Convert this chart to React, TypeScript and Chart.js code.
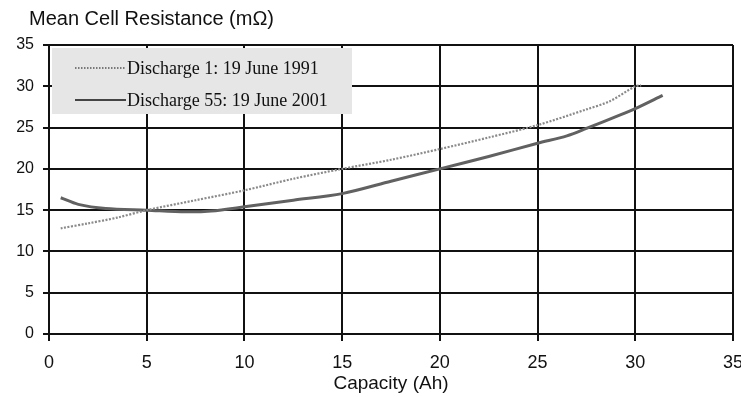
import { useEffect, useRef } from "react";
import { Chart, registerables } from "chart.js";

Chart.register(...registerables);

const yAxisTitle = "Mean Cell Resistance (mΩ)";
const xAxisTitle = "Capacity (Ah)";
const seriesLabels = ["Discharge 1: 19 June 1991", "Discharge 55: 19 June 2001"];

const capacity1991 = [0.6, 2, 3.5, 5, 7.5, 10, 12.5, 15, 17.5, 20, 22.5, 25, 27.5, 28.7, 30, 30.3];
const resistance1991 = [12.8, 13.4, 14.1, 15, 16.2, 17.4, 18.8, 20, 21.1, 22.4, 23.8, 25.3, 27.2, 28.2, 30, 30.1];

const capacity2001 = [0.6, 1.5, 2.9, 5, 7, 8.3, 10, 12.5, 15, 17.5, 20, 22.5, 25, 26.5, 27.5, 29.2, 30, 31.4];
const resistance2001 = [16.5, 15.7, 15.2, 15, 14.8, 14.9, 15.4, 16.2, 17.0, 18.5, 20, 21.5, 23.1, 24, 24.9, 26.5, 27.3, 28.9];

const axisMin = 0;
const axisMax = 35;
const axisStep = 5;

const SANS = "'Liberation Sans', Arial, sans-serif";
const SERIF = "'Liberation Serif', 'Times New Roman', serif";

export default function App() {
  const ref = useRef<HTMLCanvasElement | null>(null);

  useEffect(() => {
    document.body.style.margin = "0";
    const canvas = ref.current;
    if (!canvas) return;

    const toPoints = (xs: number[], ys: number[]) => xs.map((x, i) => ({ x, y: ys[i] }));

    const overlay = {
      id: "overlay",
      afterDraw(chart: any) {
        const ctx = chart.ctx as CanvasRenderingContext2D;
        const area = chart.chartArea;
        ctx.save();
        // y axis title at top-left
        ctx.fillStyle = "#111";
        ctx.font = `20px ${SANS}`;
        ctx.textBaseline = "middle";
        ctx.textAlign = "left";
        ctx.fillText(yAxisTitle, 29, area.top - 26);

        // legend box inside plot area
        const bx = area.left + 3;
        const by = area.top + 3;
        const bw = 300;
        const bh = 66;
        ctx.fillStyle = "#e6e6e6";
        ctx.fillRect(bx, by, bw, bh);
        const rows = [by + 20, by + 52];
        const ds = chart.data.datasets;
        rows.forEach((ry, i) => {
          ctx.beginPath();
          ctx.strokeStyle = i === 0 ? "#555" : "#444";
          ctx.lineWidth = i === 0 ? 1.3 : 2;
          ctx.setLineDash(i === 0 ? [1.5, 1.5] : []);
          ctx.moveTo(bx + 23, ry);
          ctx.lineTo(bx + 74, ry);
          ctx.stroke();
          ctx.setLineDash([]);
          ctx.fillStyle = "#111";
          ctx.font = `18px ${SERIF}`;
          ctx.fillText(ds[i].label, bx + 75, ry + 1);
        });
        ctx.restore();
      },
    };

    const chart = new Chart(canvas, {
      type: "line",
      data: {
        datasets: [
          {
            label: seriesLabels[0],
            data: toPoints(capacity1991, resistance1991),
            borderColor: "#8a8a8a",
            borderWidth: 2.2,
            borderDash: [2, 1.5],
            pointRadius: 0,
            tension: 0.3,
            fill: false,
          },
          {
            label: seriesLabels[1],
            data: toPoints(capacity2001, resistance2001),
            borderColor: "#616161",
            borderWidth: 3,
            pointRadius: 0,
            tension: 0.3,
            fill: false,
          },
        ],
      },
      options: {
        animation: false,
        responsive: false,
        devicePixelRatio: 1,
        layout: { padding: { left: 0, right: 0, top: 45, bottom: 0 } },
        plugins: {
          legend: { display: false },
          tooltip: { enabled: false },
          title: { display: false },
        },
        scales: {
          x: {
            type: "linear",
            min: axisMin,
            max: axisMax,
            ticks: {
              stepSize: axisStep,
              color: "#111",
              font: { family: SANS, size: 18 },
              padding: 11,
              maxRotation: 0,
            },
            grid: { color: "#111", lineWidth: 2, tickLength: 7, drawTicks: true },
            border: { color: "#111", width: 2 },
            title: {
              display: true,
              text: xAxisTitle,
              color: "#111",
              font: { family: SANS, size: 19 },
              padding: { top: 0, bottom: 2 },
            },
            afterFit(scale: any) {
              scale.height = 63;
              scale.paddingRight = 8;
              scale.paddingLeft = 0;
            },
          },
          y: {
            type: "linear",
            min: axisMin,
            max: axisMax,
            ticks: {
              stepSize: axisStep,
              color: "#111",
              font: { family: SANS, size: 16 },
              padding: 9,
            },
            grid: { color: "#111", lineWidth: 2, tickLength: 6, drawTicks: true },
            border: { color: "#111", width: 2 },
            afterFit(scale: any) {
              scale.width = 49;
            },
          },
        },
      },
      plugins: [overlay],
    });

    return () => chart.destroy();
  }, []);

  return (
    <div style={{ width: 741, height: 397 }}>
      <canvas ref={ref} width={741} height={397} style={{ display: "block", width: 741, height: 397 }} />
    </div>
  );
}
